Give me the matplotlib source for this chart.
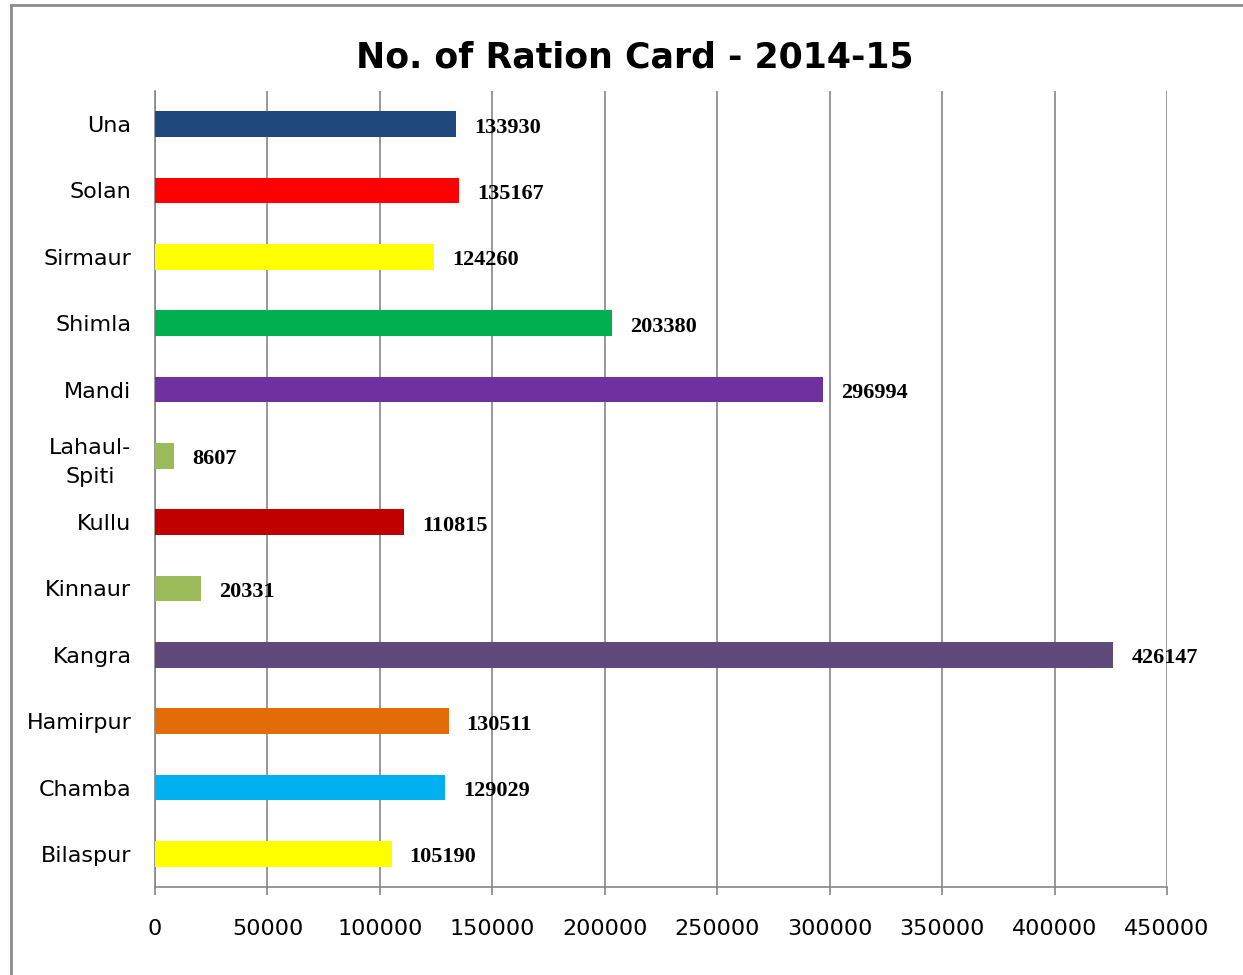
import matplotlib
matplotlib.use("Agg")
import matplotlib.pyplot as plt
from matplotlib.lines import Line2D

# data, top to bottom as in the chart
districts = ["Una", "Solan", "Sirmaur", "Shimla", "Mandi", "Lahaul-\nSpiti",
             "Kullu", "Kinnaur", "Kangra", "Hamirpur", "Chamba", "Bilaspur"]
cards = [133930, 135167, 124260, 203380, 296994, 8607,
         110815, 20331, 426147, 130511, 129029, 105190]
colors = ["#1F497D", "#FF0000", "#FFFF00", "#00B050", "#7030A0", "#9BBB59",
          "#C00000", "#9BBB59", "#604A7B", "#E36C09", "#00B0F0", "#FFFF00"]
xticks = [0, 50000, 100000, 150000, 200000, 250000, 300000, 350000, 400000, 450000]

fig = plt.figure(figsize=(12.43, 9.75), dpi=100)
ax = fig.add_axes([155/1243, 1-887/975, (1167-155)/1243, (887-91)/975])

pos = list(range(len(districts)))
ax.barh(pos, cards, height=0.39, color=colors, zorder=3)

for p, v in zip(pos, cards):
    ax.annotate(str(v), xy=(v, p), xytext=(13, -2.5), textcoords="offset points",
                ha="left", va="center", fontsize=16, fontweight="bold",
                family="Liberation Serif", zorder=4)

ax.set_ylim(len(districts) - 0.5, -0.5)
ax.set_xlim(0, 450000)
ax.set_xticks(xticks)
ax.set_xticklabels([str(t) for t in xticks], fontsize=16, family="DejaVu Sans")
ax.set_yticks(pos)
ax.set_yticklabels(districts, fontsize=16, family="DejaVu Sans", ha="right",
                   multialignment="center", linespacing=1.6)
ax.tick_params(axis="y", length=0, pad=17)
ax.tick_params(axis="x", length=6, width=1.2, color="#868686", pad=17, direction="out")

ax.grid(axis="x", color="#868686", lw=1.2, zorder=0)
for s in ["top", "right"]:
    ax.spines[s].set_visible(False)
for s in ["left", "bottom"]:
    ax.spines[s].set_color("#868686")
    ax.spines[s].set_linewidth(1.2)

fig.text(0.511, 1-57/975, "No. of Ration Card - 2014-15", ha="center", va="center",
         fontsize=25, fontweight="bold", family="DejaVu Sans")

# outer chart border (only top and left visible in the crop)
fig.add_artist(Line2D([11/1243, 11/1243], [0, 1-5/975], color="#8c8c8c", lw=2))
fig.add_artist(Line2D([11/1243, 1], [1-5/975, 1-5/975], color="#8c8c8c", lw=2))

fig.savefig("out.png", dpi=100)
